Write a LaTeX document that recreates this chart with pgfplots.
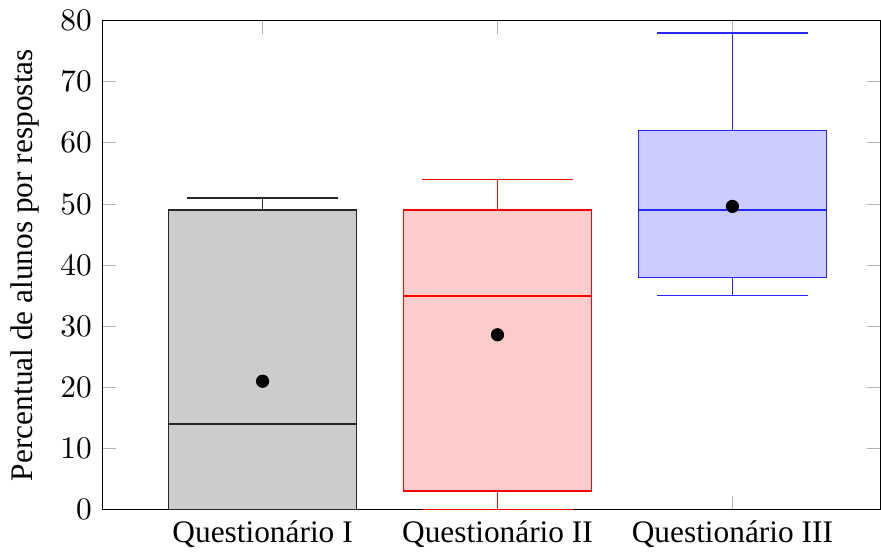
\documentclass[border=0pt]{standalone}
\usepackage{fontspec}
\setmainfont{Liberation Serif}
\usepackage{pgfplots}
\pgfplotsset{compat=1.18}
\usepgfplotslibrary{statistics}
\begin{document}
\begin{tikzpicture}
\begin{axis}[
  scale only axis,
  width=248pt, height=156pt,
  xmin=0.32, xmax=3.63,
  ymin=0, ymax=80,
  ytick={0,10,...,80},
  xtick={1,2,3},
  xticklabels={Questionário I, Questionário II, Questionário III},
  ylabel={Percentual de alunos por respostas},
  tick style={gray!60},
  boxplot/draw direction=y,
]
\addplot[boxplot prepared={lower whisker=0, lower quartile=0, median=14, upper quartile=49, upper whisker=51, draw position=1},
  color=black!85, fill=black!20, line width=0.5pt] coordinates {};
\addplot[boxplot prepared={lower whisker=0, lower quartile=3, median=35, upper quartile=49, upper whisker=54, draw position=2},
  color=red, fill=red!20, line width=0.55pt] coordinates {};
\addplot[boxplot prepared={lower whisker=35, lower quartile=38, median=49, upper quartile=62, upper whisker=78, draw position=3},
  color=blue!85, fill=blue!20, line width=0.5pt] coordinates {};
\addplot[only marks, mark=*, mark size=1.9pt, black] coordinates {(1,21) (2,28.6) (3,49.6)};
\end{axis}
\end{tikzpicture}
\end{document}
